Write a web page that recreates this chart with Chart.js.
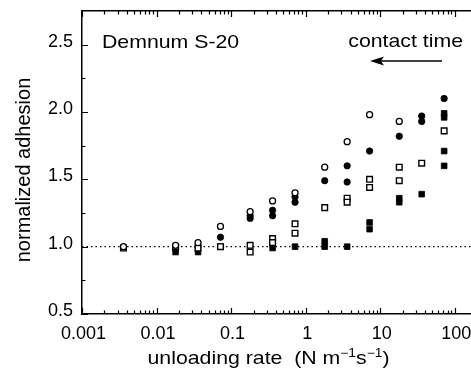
<!DOCTYPE html>
<html>
<head>
    <title>Demnum S-20 normalized adhesion</title>
    <script src="https://cdn.jsdelivr.net/npm/chart.js"></script>
    <style>
        html, body { margin: 0; padding: 0; background: #fff; }
        #wrap { width: 471px; height: 368px; }
    </style>
</head>
<body>
    <div id="wrap"><canvas id="adhesionChart" width="471" height="368"></canvas></div>

    <script>
        // axis ranges and tick labels
        const xMin = 0.001, xMax = 165;
        const yMin = 0.5, yMax = 2.75;
        const xTickValues = [0.001, 0.01, 0.1, 1, 10, 100];
        const xTickLabels = ['0.001', '0.01', '0.1', '1', '10', '100'];
        const yTickValues = [0.5, 1.0, 1.5, 2.0, 2.5];
        const yMinorTicks = [0.75, 1.25, 1.75, 2.25];

        // dotted reference line at 1.0
        const refLineX = [0.001, 165];
        const refLineY = [1.0, 1.0];

        // open circles
        const openCircleX = [0.0036, 0.018, 0.036, 0.072, 0.18, 0.36, 0.72, 1.8, 3.6, 7.2, 18];
        const openCircleY = [1.00, 1.01, 1.03, 1.15, 1.26, 1.34, 1.40, 1.59, 1.78, 1.98, 1.93];

        // filled circles
        const filledCircleX = [0.018, 0.036, 0.072, 0.18, 0.18, 0.36, 0.36, 0.72, 0.72, 1.8, 3.6, 3.6, 7.2, 18, 36, 36, 72];
        const filledCircleY = [0.98, 1.00, 1.07, 1.23, 1.21, 1.27, 1.23, 1.37, 1.33, 1.49, 1.60, 1.48, 1.71, 1.82, 1.97, 1.93, 2.10];

        // open squares
        const openSquareX = [0.0036, 0.018, 0.036, 0.072, 0.18, 0.18, 0.36, 0.36, 0.72, 0.72, 1.8, 3.6, 3.6, 7.2, 7.2, 18, 18, 36, 72];
        const openSquareY = [0.99, 1.00, 0.99, 1.00, 1.01, 0.96, 1.06, 1.03, 1.17, 1.10, 1.29, 1.36, 1.33, 1.50, 1.44, 1.59, 1.49, 1.62, 1.86];

        // filled squares
        const filledSquareX = [0.018, 0.036, 0.072, 0.36, 0.72, 1.8, 1.8, 3.6, 7.2, 7.2, 18, 18, 36, 72, 72, 72, 72];
        const filledSquareY = [0.96, 0.96, 1.00, 0.99, 1.00, 1.04, 1.00, 1.00, 1.18, 1.13, 1.36, 1.33, 1.39, 1.99, 1.96, 1.71, 1.60];

        function pairs(xs, ys) {
            return xs.map((x, i) => ({ x: x, y: ys[i] }));
        }

        const FONT = '"Liberation Sans", Arial, Helvetica, sans-serif';

        // no extra room for labels hanging past the axis ends
        function noPad(s) {
            s.paddingLeft = 0; s.paddingRight = 0;
            s.paddingTop = 0; s.paddingBottom = 0;
        }

        // draws text stretched horizontally by sx
        function stretchText(ctx, text, x, y, size, sx, align) {
            ctx.save();
            ctx.font = size + 'px ' + FONT;
            const w = ctx.measureText(text).width * sx;
            let left = x;
            if (align === 'center') left = x - w / 2;
            if (align === 'right') left = x - w;
            ctx.translate(left, y);
            ctx.scale(sx, 1);
            ctx.textAlign = 'left';
            ctx.textBaseline = 'alphabetic';
            ctx.fillText(text, 0, 0);
            ctx.restore();
            return w;
        }

        const decorations = {
            id: 'decorations',
            afterDraw(chart) {
                const ctx = chart.ctx, a = chart.chartArea;
                const xs = chart.scales.x, ys = chart.scales.y;
                ctx.save();
                ctx.strokeStyle = '#000';
                ctx.fillStyle = '#000';
                ctx.lineWidth = 1.2;

                // inward ticks, bottom and top
                ctx.beginPath();
                for (let d = -3; d <= 2; d++) {
                    for (let m = 1; m <= 9; m++) {
                        const v = m * Math.pow(10, d);
                        if (v > xMax) break;
                        const px = Math.round(xs.getPixelForValue(v)) + 0.5;
                        const len = m === 1 ? 6 : 3.5;
                        ctx.moveTo(px, a.bottom); ctx.lineTo(px, a.bottom - len);
                        ctx.moveTo(px, a.top); ctx.lineTo(px, a.top + len);
                    }
                }
                // inward ticks, left
                yTickValues.forEach(v => {
                    const py = Math.round(ys.getPixelForValue(v)) + 0.5;
                    ctx.moveTo(a.left, py); ctx.lineTo(a.left + 6, py);
                });
                yMinorTicks.forEach(v => {
                    const py = Math.round(ys.getPixelForValue(v)) + 0.5;
                    ctx.moveTo(a.left, py); ctx.lineTo(a.left + 3.5, py);
                });
                ctx.stroke();

                // annotations
                stretchText(ctx, 'Demnum S-20', a.left + 20, 48, 18.5, 1.15, 'left');
                stretchText(ctx, 'contact time', 463, 47, 18.5, 1.15, 'right');

                // arrow pointing left
                ctx.lineWidth = 1.3;
                ctx.beginPath();
                ctx.moveTo(442, 61); ctx.lineTo(380, 61);
                ctx.stroke();
                ctx.beginPath();
                ctx.moveTo(370, 61); ctx.lineTo(384, 56.5); ctx.lineTo(381, 61); ctx.lineTo(384, 65.5);
                ctx.closePath();
                ctx.fill();

                // y axis title
                ctx.save();
                ctx.translate(29.5, 170);
                ctx.rotate(-Math.PI / 2);
                ctx.font = '20px ' + FONT;
                ctx.textAlign = 'center';
                ctx.textBaseline = 'alphabetic';
                ctx.fillText('normalized adhesion', 0, 0);
                ctx.restore();

                // x axis title with superscripts
                const sx = 1.15, base = 18.5, sup = 12;
                const parts = [
                    ['unloading rate  (N m', base, 0],
                    ['\u22121', sup, -7],
                    ['s', base, 0],
                    ['\u22121', sup, -7],
                    [')', base, 0]
                ];
                let total = 0;
                parts.forEach(p => { ctx.font = p[1] + 'px ' + FONT; total += ctx.measureText(p[0]).width * sx; });
                let cx = 268.5 - total / 2;
                parts.forEach(p => {
                    cx += stretchText(ctx, p[0], cx, 364 + p[2], p[1], sx, 'left');
                });

                ctx.restore();
            }
        };

        const adhesionChart = new Chart(document.getElementById('adhesionChart').getContext('2d'), {
            type: 'scatter',
            data: {
                datasets: [
                    { label: 'open circles', data: pairs(openCircleX, openCircleY), pointStyle: 'circle', pointRadius: 3, borderWidth: 1.3, borderColor: '#000', backgroundColor: '#fff' },
                    { label: 'open squares', data: pairs(openSquareX, openSquareY), pointStyle: 'rect', pointRadius: 4, borderWidth: 1.4, borderColor: '#000', backgroundColor: '#fff' },
                    { label: 'filled circles', data: pairs(filledCircleX, filledCircleY), pointStyle: 'circle', pointRadius: 3.2, borderWidth: 0.8, borderColor: '#000', backgroundColor: '#000' },
                    { label: 'filled squares', data: pairs(filledSquareX, filledSquareY), pointStyle: 'rect', pointRadius: 4, borderWidth: 0.8, borderColor: '#000', backgroundColor: '#000' },
                    { label: 'reference', data: pairs(refLineX, refLineY), showLine: true, pointRadius: 0, borderColor: '#000', borderWidth: 1.2, borderDash: [1.5, 3] }
                ]
            },
            options: {
                responsive: false,
                animation: false,
                events: [],
                layout: { autoPadding: false, padding: { top: 11, right: 0, left: 0, bottom: 0 } },
                plugins: { legend: { display: false }, tooltip: { enabled: false } },
                scales: {
                    x: {
                        type: 'logarithmic',
                        position: 'bottom',
                        min: xMin, max: xMax,
                        afterBuildTicks: s => { s.ticks = xTickValues.map(v => ({ value: v })); },
                        afterFit: s => { s.height = 54; noPad(s); },
                        ticks: {
                            callback: (v, i) => xTickLabels[i],
                            color: '#000', padding: 9, labelOffset: 1.5, maxRotation: 0, autoSkip: false,
                            font: { family: FONT, size: 18 }
                        },
                        grid: { display: false, drawTicks: false },
                        border: { display: true, color: '#000', width: 1.5 }
                    },
                    x2: {
                        type: 'logarithmic',
                        position: 'top',
                        min: xMin, max: xMax,
                        ticks: { display: false },
                        afterFit: s => { s.height = 0; noPad(s); },
                        grid: { display: false, drawTicks: false },
                        border: { display: true, color: '#000', width: 1.5 }
                    },
                    y: {
                        min: yMin, max: yMax,
                        afterBuildTicks: s => { s.ticks = yTickValues.map(v => ({ value: v })); },
                        afterFit: s => { s.width = 82; noPad(s); },
                        ticks: {
                            callback: v => v.toFixed(1),
                            color: '#000', padding: 9, labelOffset: -3,
                            font: { family: FONT, size: 18 }
                        },
                        grid: { display: false, drawTicks: false },
                        border: { display: true, color: '#000', width: 1.5 }
                    }
                }
            },
            plugins: [decorations]
        });
    </script>
</body>
</html>
